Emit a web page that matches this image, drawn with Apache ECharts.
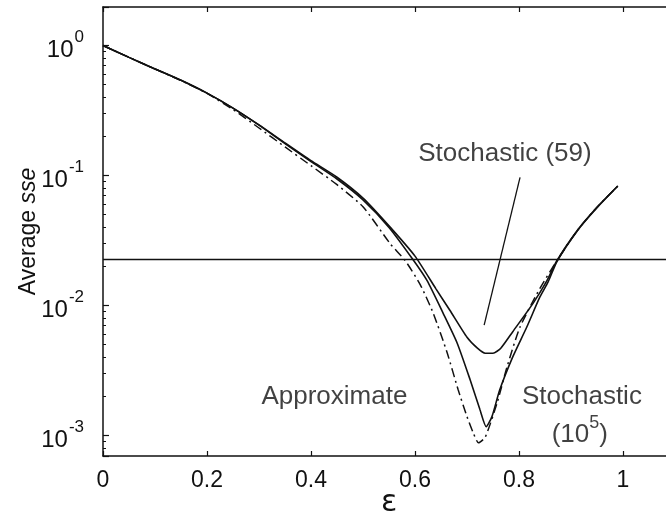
<!doctype html>
<html lang="en">
<head>
    <meta charset="UTF-8">
    <title>Average sse vs epsilon</title>
    <style>
        *{
            margin:0;
            padding:0;
        }
        html,body {
            width:100%;
            height:100%;
            background:#fff;
        }
        #main{
            width:666px;
            height:517px;
        }
    </style>
</head>
<body>

<div id="main"></div>
<script src="https://cdn.jsdelivr.net/npm/echarts@6/dist/echarts.min.js"></script>
<script>

    // Stochastic, 59 samples (upper solid curve)
    var eps59 = [0, 0.05, 0.1, 0.15, 0.2, 0.25, 0.3, 0.35, 0.4, 0.45, 0.5, 0.55, 0.6, 0.64, 0.667, 0.7, 0.72, 0.735, 0.75, 0.765, 0.788, 0.827, 0.854, 0.873, 0.912, 0.95, 0.99];
    var sse59 = [1.0, 0.81, 0.66, 0.54, 0.43, 0.33, 0.245, 0.178, 0.13, 0.097, 0.067, 0.041, 0.024, 0.0135, 0.0092, 0.0057, 0.0047, 0.0043, 0.0043, 0.0047, 0.0063, 0.0104, 0.0156, 0.0222, 0.0378, 0.057, 0.083];

    // Stochastic, 10^5 samples (lower solid curve)
    var eps1e5 = [0, 0.05, 0.1, 0.15, 0.2, 0.25, 0.3, 0.35, 0.4, 0.45, 0.5, 0.55, 0.596, 0.623, 0.654, 0.681, 0.706, 0.725, 0.737, 0.748, 0.763, 0.788, 0.815, 0.84, 0.856, 0.873, 0.912, 0.95, 0.99];
    var sse1e5 = [1.0, 0.81, 0.66, 0.54, 0.43, 0.33, 0.244, 0.176, 0.128, 0.094, 0.065, 0.0399, 0.0226, 0.0156, 0.00875, 0.00516, 0.00269, 0.00158, 0.00117, 0.0014, 0.00225, 0.00403, 0.00684, 0.0116, 0.0152, 0.0218, 0.0375, 0.0565, 0.083];

    // Approximate (dash-dot curve)
    var epsApprox = [0, 0.05, 0.1, 0.15, 0.2, 0.25, 0.3, 0.35, 0.4, 0.45, 0.5, 0.552, 0.581, 0.61, 0.635, 0.662, 0.683, 0.7, 0.712, 0.722, 0.735, 0.758, 0.777, 0.802, 0.84, 0.873, 0.912, 0.95, 0.99];
    var sseApprox = [1.0, 0.81, 0.66, 0.537, 0.428, 0.322, 0.232, 0.166, 0.119, 0.085, 0.0575, 0.030, 0.0222, 0.0145, 0.00875, 0.00432, 0.00225, 0.0014, 0.00105, 0.00088, 0.00097, 0.00179, 0.00338, 0.00684, 0.0135, 0.0222, 0.0378, 0.057, 0.083];

    // horizontal reference level, drawn across the whole axis
    var refEps = [0, 1.1];
    var refSse = [0.0226, 0.0226];

    // pointer from the "Stochastic (59)" text to its curve
    var pointerEps = [0.802, 0.733];
    var pointerSse = [0.0969, 0.00707];

    // text notes placed in data coordinates
    var noteText = ['Stochastic (59)', 'Approximate', 'Stochastic', '{n|(10}{s|5}{n|)}'];
    var noteEps = [0.773, 0.445, 0.921, 0.917];
    var noteSse = [0.148, 0.00198, 0.00198, 0.00109];

    var xTicks = {min: 0, max: 1.1, interval: 0.2};
    var yRange = {min: 0.000697, max: 1.976};

    var FONT = '"Liberation Sans", Arial, sans-serif';
    var INK = '#111';

    function pairs(xs, ys) {
        return xs.map(function (x, i) { return [x, ys[i]]; });
    }

    var myChart = echarts.init(document.getElementById('main'), null, {renderer: 'canvas'});

    var curveStyle = {color: INK, width: 1.6};

    myChart.setOption({
        animation: false,
        backgroundColor: '#fff',
        textStyle: {fontFamily: FONT, color: INK},
        grid: {
            left: 103,
            right: -9,
            top: 7,
            bottom: 61,
            containLabel: false,
            outerBoundsMode: 'none'
        },
        xAxis: [{
            type: 'value',
            min: xTicks.min,
            max: xTicks.max,
            interval: xTicks.interval,
            name: 'ε',
            nameLocation: 'middle',
            nameGap: 32,
            nameMoveOverlap: false,
            nameTextStyle: {fontFamily: '"DejaVu Sans", sans-serif', fontSize: 30, color: INK},
            axisLine: {lineStyle: {color: INK, width: 1.5}},
            axisTick: {inside: true, length: 5, lineStyle: {color: INK, width: 1.2}},
            axisLabel: {
                fontSize: 23,
                color: INK,
                margin: 13,
                formatter: function (v) {
                    return v > 1.0001 ? '' : String(+v.toFixed(1));
                }
            },
            splitLine: {show: false}
        }, {
            type: 'value',
            position: 'top',
            min: xTicks.min,
            max: xTicks.max,
            interval: xTicks.interval,
            axisLine: {lineStyle: {color: INK, width: 1.5}},
            axisTick: {inside: true, length: 5, lineStyle: {color: INK, width: 1.2}},
            axisLabel: {show: false},
            splitLine: {show: false}
        }],
        yAxis: {
            type: 'log',
            logBase: 10,
            min: yRange.min,
            max: yRange.max,
            name: 'Average {i|sse}',
            nameLocation: 'middle',
            nameGap: 63,
            nameMoveOverlap: false,
            nameTextStyle: {
                fontSize: 23,
                color: INK,
                rich: {i: {fontSize: 23, fontStyle: 'italic', color: INK}}
            },
            axisLine: {lineStyle: {color: INK, width: 1.5}},
            axisTick: {inside: true, length: 6, lineStyle: {color: INK, width: 1.2}},
            minorTick: {show: true, splitNumber: 9, length: 3, lineStyle: {color: INK, width: 1}},
            axisLabel: {
                margin: 19,
                color: INK,
                formatter: function (v) {
                    var e = Math.round(Math.log10(v) * 1000) / 1000;
                    if (Math.abs(e - Math.round(e)) > 0.01) {
                        return '';
                    }
                    e = Math.round(e);
                    return '{b|10}{s|' + e + '}';
                },
                rich: {
                    b: {fontSize: 24, color: INK, verticalAlign: 'bottom', padding: [9, 1, 0, 0]},
                    s: {fontSize: 17, color: INK, verticalAlign: 'top'}
                }
            },
            splitLine: {show: false}
        },
        series: [{
            name: 'Stochastic (59)',
            type: 'line',
            data: pairs(eps59, sse59),
            showSymbol: false,
            smooth: 0.2,
            lineStyle: curveStyle
        }, {
            name: 'Stochastic (1e5)',
            type: 'line',
            data: pairs(eps1e5, sse1e5),
            showSymbol: false,
            smooth: 0.2,
            lineStyle: curveStyle
        }, {
            name: 'Approximate',
            type: 'line',
            data: pairs(epsApprox, sseApprox),
            showSymbol: false,
            smooth: 0.2,
            lineStyle: {color: INK, width: 1.5, type: [9, 4, 2, 4]}
        }, {
            name: 'reference',
            type: 'line',
            data: pairs(refEps, refSse),
            showSymbol: false,
            lineStyle: {color: INK, width: 1.5}
        }, {
            name: 'pointer',
            type: 'line',
            data: pairs(pointerEps, pointerSse),
            showSymbol: false,
            lineStyle: {color: INK, width: 1.3}
        }, {
            name: 'notes',
            type: 'scatter',
            symbolSize: 0,
            data: noteText.map(function (t, i) {
                return {name: t, value: [noteEps[i], noteSse[i]]};
            }),
            label: {
                show: true,
                position: 'inside',
                fontSize: 26,
                color: INK,
                formatter: '{b}',
                rich: {
                    n: {fontSize: 26, color: INK, verticalAlign: 'bottom', padding: [8, 0, 0, 0]},
                    s: {fontSize: 18, color: INK, verticalAlign: 'top'}
                }
            }
        }]
    });

</script>
</body>
</html>
